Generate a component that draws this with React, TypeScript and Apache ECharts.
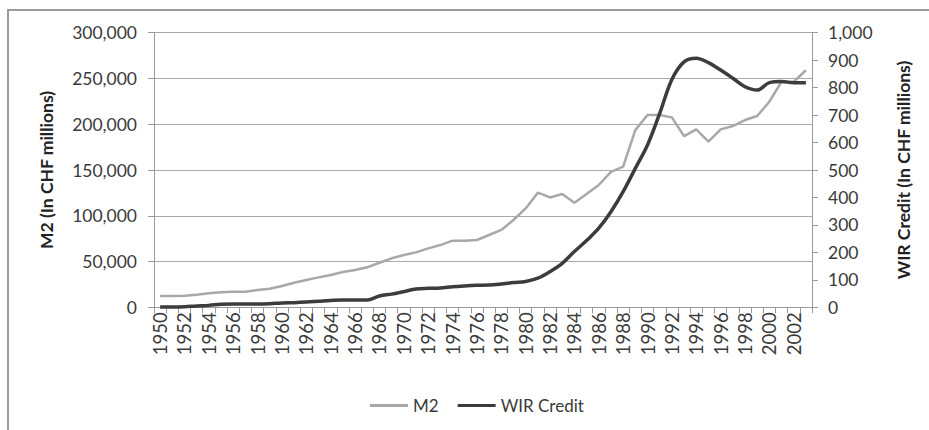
import React, { useEffect, useRef } from "react";
import * as echarts from "echarts";

const years = [
  "1950", "1951", "1952", "1953", "1954", "1955", "1956", "1957", "1958", "1959",
  "1960", "1961", "1962", "1963", "1964", "1965", "1966", "1967", "1968", "1969",
  "1970", "1971", "1972", "1973", "1974", "1975", "1976", "1977", "1978", "1979",
  "1980", "1981", "1982", "1983", "1984", "1985", "1986", "1987", "1988", "1989",
  "1990", "1991", "1992", "1993", "1994", "1995", "1996", "1997", "1998", "1999",
  "2000", "2001", "2002", "2003",
];

const m2 = [
  12300, 12300, 12600, 13800, 15300, 16400, 17100, 17100, 18900, 20300,
  23300, 26900, 29800, 32700, 35300, 38500, 40700, 43700, 48700, 53500,
  57100, 60000, 64400, 68000, 72800, 72800, 73500, 79000, 84500, 95400,
  108000, 125200, 120000, 123800, 114300, 123800, 133600, 148000, 153600, 193600,
  210000, 210000, 207500, 187000, 194400, 181000, 194400, 198000, 204600, 209000,
  224600, 246400, 246400, 259000,
];

const wirCredit = [
  1, 1, 2, 5, 7, 11, 12, 12, 12, 13,
  16, 17, 19, 22, 25, 27, 27, 27, 41, 48,
  57, 67, 69, 70, 75, 78, 80, 81, 85, 90,
  94, 106, 130, 160, 203, 243, 288, 348, 421, 506,
  591, 706, 830, 894, 907, 891, 864, 834, 803, 791,
  818, 822, 818, 818,
];

const FONT = "Lato";
const LABEL_COLOR = "#3a3a3a";
const AXIS_COLOR = "#9a9a9a";

export default function App() {
  const ref = useRef<HTMLDivElement>(null);

  useEffect(() => {
    if (!ref.current) return;
    const chart = echarts.init(ref.current, undefined, { renderer: "svg" });
    chart.setOption({
      animation: false,
      backgroundColor: "#ffffff",
      textStyle: { fontFamily: FONT },
      grid: { left: 154, right: 117, top: 32.7, bottom: 122.7, containLabel: false },
      legend: {
        left: 365,
        top: 392,
        itemWidth: 38,
        itemHeight: 3,
        itemGap: 19,
        icon: "rect",
        textStyle: { fontFamily: FONT, fontSize: 17, color: LABEL_COLOR },
        data: [
          { name: "M2", itemStyle: { color: "#a8a8a8" } },
          { name: "WIR Credit", itemStyle: { color: "#3c3c3c" } },
        ],
      },
      graphic: [
        {
          type: "rect",
          shape: { x: 8, y: 10, width: 1000, height: 600 },
          style: { fill: "none", stroke: "#9c9c9c", lineWidth: 2 },
          silent: true,
          z: -1,
        },
      ],
      xAxis: {
        type: "category",
        data: years,
        boundaryGap: true,
        axisLine: { show: true, lineStyle: { color: AXIS_COLOR, width: 1 } },
        axisTick: { show: true, interval: 0, alignWithLabel: false, length: 6, lineStyle: { color: AXIS_COLOR } },
        axisLabel: {
          interval: 1,
          rotate: 90,
          margin: 5,
          fontFamily: FONT,
          fontSize: 18.5,
          color: LABEL_COLOR,
        },
        splitLine: { show: false },
      },
      yAxis: [
        {
          type: "value",
          min: 0,
          max: 300000,
          interval: 50000,
          position: "left",
          name: "M2 (In CHF millions)",
          nameLocation: "middle",
          nameGap: 99,
          nameRotate: 90,
          nameTextStyle: { fontFamily: FONT, fontSize: 17.5, fontWeight: "bold", color: "#222" },
          axisLine: { show: true, lineStyle: { color: AXIS_COLOR, width: 1 } },
          axisTick: { show: true, length: 6, lineStyle: { color: AXIS_COLOR } },
          axisLabel: {
            fontFamily: FONT,
            fontSize: 17.5,
            color: LABEL_COLOR,
            margin: 17,
            formatter: (v: number) => v.toLocaleString("en-US"),
          },
          splitLine: { show: true, lineStyle: { color: "#a9a9a9", width: 1.2 } },
        },
        {
          type: "value",
          min: 0,
          max: 1000,
          interval: 100,
          position: "right",
          name: "WIR Credit (In CHF millions)",
          nameLocation: "middle",
          nameGap: 82,
          nameRotate: 90,
          nameTextStyle: { fontFamily: FONT, fontSize: 17.5, fontWeight: "bold", color: "#222" },
          axisLine: { show: true, lineStyle: { color: AXIS_COLOR, width: 1 } },
          axisTick: { show: true, length: 6, lineStyle: { color: AXIS_COLOR } },
          axisLabel: {
            fontFamily: FONT,
            fontSize: 17.5,
            color: LABEL_COLOR,
            margin: 16,
            formatter: (v: number) => v.toLocaleString("en-US"),
          },
          splitLine: { show: false },
        },
      ],
      series: [
        {
          name: "M2",
          type: "line",
          yAxisIndex: 0,
          data: m2,
          symbol: "none",
          showSymbol: false,
          lineStyle: { color: "#a8a8a8", width: 2.5 },
          itemStyle: { color: "#a8a8a8" },
          z: 2,
        },
        {
          name: "WIR Credit",
          type: "line",
          yAxisIndex: 1,
          data: wirCredit,
          symbol: "none",
          showSymbol: false,
          smooth: 0.35,
          lineStyle: { color: "#3c3c3c", width: 3.5 },
          itemStyle: { color: "#3c3c3c" },
          z: 3,
        },
      ],
    });
    return () => chart.dispose();
  }, []);

  return (
    <div
      ref={ref}
      style={{ position: "fixed", left: 0, top: 0, width: 929, height: 430, background: "#fff" }}
    />
  );
}
